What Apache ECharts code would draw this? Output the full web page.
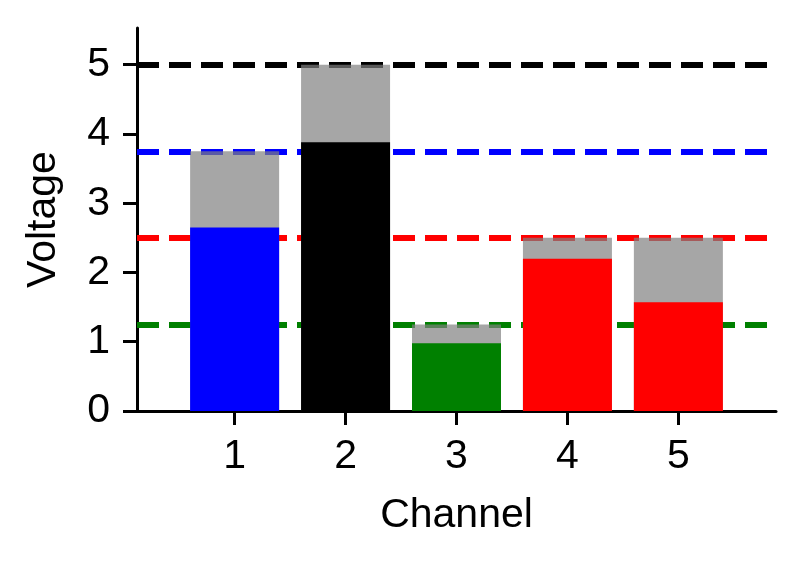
<!DOCTYPE html>
<html>
<head>
<meta charset="utf-8">
<script src="https://cdn.jsdelivr.net/npm/echarts@6/dist/echarts.min.js"></script>
<style>
  html, body { margin: 0; padding: 0; background: #fff; }
  #chart { width: 804px; height: 564px; }
</style>
</head>
<body>
<div id="chart"></div>
<script>
  // channel data
  const channels = [1, 2, 3, 4, 5]
  const measured = [2.65, 3.88, 0.98, 2.2, 1.57]
  const capacity = [3.75, 5.0, 1.25, 2.5, 2.5]
  const barColors = ["#0000ff", "#000000", "#008000", "#ff0000", "#ff0000"]
  // reference levels (dashed lines)
  const levels = [5.0, 3.75, 2.5, 1.25]
  const levelColors = ["#000000", "#0000ff", "#ff0000", "#008000"]
  const yTicks = [0, 1, 2, 3, 4, 5]

  const font = "Liberation Sans, Arial, sans-serif"
  let myChart = echarts.init(document.getElementById("chart"))

  myChart.setOption({
    animation: false,
    grid: {
      left: 137,
      right: 28,
      top: 28,
      bottom: 153
    },
    xAxis: {
      type: "value",
      min: 0.12,
      max: 5.88,
      name: "Channel",
      nameLocation: "middle",
      nameGap: 84,
      nameTextStyle: {fontSize: 41, fontFamily: font, color: "#000"},
      splitLine: {show: false},
      axisLine: {lineStyle: {color: "#000", width: 3}},
      axisTick: {customValues: channels, length: 14, lineStyle: {color: "#000", width: 3}},
      axisLabel: {customValues: channels, fontSize: 41, fontFamily: font, color: "#000", margin: 25}
    },
    yAxis: {
      type: "value",
      min: 0,
      max: 5.53,
      name: "Voltage",
      nameLocation: "middle",
      nameGap: 73,
      nameTextStyle: {fontSize: 41, fontFamily: font, color: "#000"},
      splitLine: {show: false},
      axisLine: {show: true, lineStyle: {color: "#000", width: 3}},
      axisTick: {show: true, customValues: yTicks, length: 14, lineStyle: {color: "#000", width: 3}},
      axisLabel: {customValues: yTicks, fontSize: 41, fontFamily: font, color: "#000", margin: 27}
    },
    series: [
      {
        name: "levels",
        type: "line",
        data: [],
        z: 1,
        markLine: {
          silent: true,
          z: 1,
          symbol: "none",
          label: {show: false},
          data: levels.map((v, i) => {
            return {yAxis: v, lineStyle: {color: levelColors[i], width: 6, type: [22, 10]}}
          })
        }
      },
      {
        // translucent full-capacity bar, the measured bar covers its lower part
        name: "capacity",
        type: "bar",
        z: 2,
        barWidth: 89,
        barGap: "-100%",
        itemStyle: {color: "rgba(128,128,128,0.7)"},
        data: channels.map((c, i) => [c, capacity[i]])
      },
      {
        name: "measured",
        type: "bar",
        z: 3,
        barWidth: 89,
        barGap: "-100%",
        data: channels.map((c, i) => {
          return {value: [c, measured[i]], itemStyle: {color: barColors[i]}}
        })
      }
    ]
  })
</script>
</body>
</html>
